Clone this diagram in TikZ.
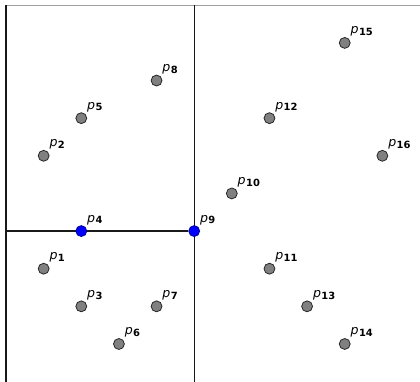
\documentclass[tikz,border=0pt]{standalone}
\usepackage{fontspec}
\setmainfont{DejaVu Sans}
\usetikzlibrary{positioning}

\tikzset{
  pt/.style={circle, fill=gray, draw=black!85, line width=0.6pt, inner sep=0pt, minimum size=2.9mm},
  ptsel/.style={pt, fill=blue, draw=blue!60!black},
  ptlab/.style={inner sep=0pt, anchor=base west, font=\fontsize{9.5}{11}\selectfont},
  split/.style={black!90, line width=0.9pt},
}
\newcommand{\plab}[1]{\textit{p}\kern0.3pt\raisebox{-0.25ex}{\fontsize{7.5}{8}\selectfont\bfseries #1}}

\begin{document}
\begin{tikzpicture}

%% fixed margins
\useasboundingbox (-0.16,0) rectangle (11,10.14);

%% frame and split lines
\draw[gray!75, line width=0.9pt] (0,10) -- (11,10);
\draw[split] (0,0) -- (0,10);
\draw[split] (5,0) -- (5,10);
\coordinate (west) at (0,4);

%% points (index / x / y)
\foreach \i/\x/\y in {
  1/1/3, 2/1/6, 3/2/2, 5/2/7, 6/3/1, 7/4/2, 8/4/8,
  10/6/5, 11/7/3, 12/7/7, 13/8/2, 14/9/1, 15/9/9, 16/10/6%
}{
  \node[pt] (p\i) at (\x,\y) {};
}

%% selected points
\node[ptsel] (p9) at (5,4) {};
\draw[split] (west) -- (p9);
\node[ptsel] (p4) at (2,4) {};

%% labels
\foreach \i in {1,...,16}{
  \node[ptlab] (l\i) at ([shift={(0.15,0.24)}]p\i) {\plab{\i}};
}

\end{tikzpicture}
\end{document}
